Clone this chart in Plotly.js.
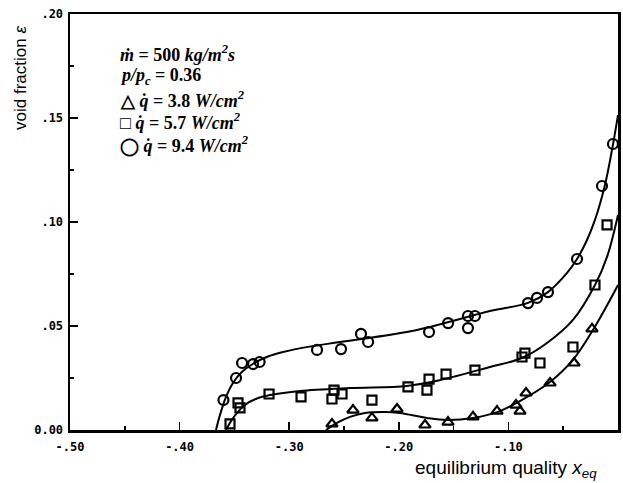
<!DOCTYPE html>
<html>
<head>
<meta charset="utf-8">
<script src="https://cdn.plot.ly/plotly-3.0.1.min.js"></script>
<style>html,body{margin:0;padding:0;background:#fff;}#chart{width:623px;height:483px;}</style>
</head>
<body>
<div id="chart"></div>
<script>
// Measured points: q = 9.4 W/cm2 (circles)
const circX = [-0.360,-0.3485,-0.343,-0.333,-0.327,-0.2746,-0.2527,-0.2345,-0.228,-0.1724,-0.155,-0.1369,-0.1305,-0.1369,-0.0821,-0.0739,-0.0639,-0.0374,-0.0146,-0.0046];
const circY = [0.0144,0.025,0.0322,0.0317,0.0327,0.0385,0.0389,0.0462,0.0423,0.0471,0.0514,0.0548,0.0548,0.049,0.061,0.0635,0.0663,0.0822,0.1173,0.1375];
// q = 5.7 W/cm2 (squares)
const sqX = [-0.354,-0.3467,-0.3449,-0.3184,-0.2892,-0.261,-0.2591,-0.2518,-0.2245,-0.1916,-0.1724,-0.1743,-0.1569,-0.1305,-0.0849,-0.0876,-0.0712,-0.0411,-0.021,-0.010];
const sqY = [0.0029,0.013,0.0106,0.0173,0.0159,0.0149,0.0192,0.0173,0.0144,0.0207,0.0245,0.0192,0.0269,0.0288,0.037,0.0351,0.0322,0.0399,0.0697,0.0986];
// q = 3.8 W/cm2 (triangles)
const triX = [-0.261,-0.2418,-0.2245,-0.2016,-0.1761,-0.1551,-0.1323,-0.1104,-0.0931,-0.0894,-0.0839,-0.062,-0.0401,-0.0237];
const triY = [0.0029,0.0096,0.0058,0.0101,0.0024,0.0038,0.0063,0.0091,0.012,0.0091,0.0178,0.0226,0.0322,0.0486];
// Fitted curves
const fitCircX = [-0.3668,-0.3630,-0.3580,-0.3513,-0.3430,-0.3340,-0.3200,-0.3057,-0.2800,-0.2536,-0.1834,-0.1168,-0.0821,-0.0639,-0.0465,-0.0374,-0.0290,-0.021,-0.0119,-0.0055,0];
const fitCircY = [0,0.0075,0.0155,0.0226,0.0280,0.0315,0.0352,0.0375,0.0402,0.0423,0.0481,0.0572,0.0611,0.0663,0.0755,0.0822,0.0905,0.101,0.1178,0.1346,0.1514];
const fitSqX = [-0.3577,-0.3522,-0.3460,-0.3400,-0.3300,-0.3175,-0.2901,-0.2445,-0.1925,-0.1624,-0.1168,-0.0876,-0.0648,-0.0411,-0.021,-0.010,0];
const fitSqY = [0,0.0050,0.0092,0.0122,0.0150,0.0168,0.0188,0.0202,0.0212,0.024,0.0303,0.0346,0.0418,0.0529,0.0697,0.0832,0.1034];
const fitTriX = [-0.2664,-0.2564,-0.2445,-0.2308,-0.2126,-0.1989,-0.1743,-0.156,-0.1323,-0.1077,-0.083,-0.062,-0.0411,-0.0228,-0.0073,0];
const fitTriY = [0,0.0034,0.0063,0.0082,0.0087,0.0082,0.0058,0.0048,0.0058,0.0091,0.0159,0.0231,0.0337,0.0481,0.0625,0.0697];
// Tick labels
const xTickVals = [-0.5,-0.4,-0.3,-0.2,-0.1,0];
const xTickText = ['-.50','-.40','-.30','-.20','-.10','0.00'];
const yTickVals = [0,0.05,0.1,0.15,0.2];
const yTickText = ['0.00','.05','.10','.15','.20'];
const legendLines = [
  '<i>ṁ</i> = 500 <i>kg/m<sup>2</sup>s</i>',
  '<i>p/p<sub>c</sub></i> = 0.36',
  '△ <i>q̇</i> = 3.8 <i>W/cm<sup>2</sup></i>',
  '□ <i>q̇</i> = 5.7 <i>W/cm<sup>2</sup></i>',
  '<span style="font-size:17px">◯</span> <i>q̇</i> = 9.4 <i>W/cm<sup>2</sup></i>'
];

const lineStyle = {color:'#000', width:2, shape:'spline', smoothing:1};
const mk = (sym,size)=>({symbol:sym, size:size, color:'#000', line:{color:'#000', width:2.2}});
const traces = [
  {x:fitCircX, y:fitCircY, mode:'lines', line:lineStyle, hoverinfo:'skip'},
  {x:fitSqX, y:fitSqY, mode:'lines', line:lineStyle, hoverinfo:'skip'},
  {x:fitTriX, y:fitTriY, mode:'lines', line:lineStyle, hoverinfo:'skip'},
  {x:circX, y:circY, mode:'markers', marker:mk('circle-open',10)},
  {x:sqX, y:sqY, mode:'markers', marker:mk('square-open',9)},
  {x:triX, y:triY, mode:'markers', marker:mk('triangle-up-open',10)}
];

const tickFont = {family:'DejaVu Sans Mono', size:12, color:'#000', weight:'bold'};
const annotations = legendLines.map((t,i)=>({
  text:t, xref:'paper', yref:'paper', x:(118-70)/548, y:(430-(53+i*23))/416,
  xanchor:'left', yanchor:'middle', showarrow:false,
  font:{family:'Liberation Serif', size:18, color:'#000', weight:'bold'}
}));
annotations.push({
  text:'void fraction <i>ε</i>', xref:'paper', yref:'paper', x:(20-70)/548, y:(430-78)/416,
  xanchor:'center', yanchor:'middle', textangle:-90, showarrow:false,
  font:{family:'Liberation Sans', size:17, color:'#000'}
});
annotations.push({
  text:'equilibrium quality <i>x<sub>eq</sub></i>', xref:'paper', yref:'paper', x:(506-70)/548, y:(430-469)/416,
  xanchor:'center', yanchor:'middle', showarrow:false,
  font:{family:'Liberation Sans', size:19, color:'#000'}
});

const layout = {
  width:623, height:483,
  margin:{l:70, r:5, t:14, b:53},
  paper_bgcolor:'#fff', plot_bgcolor:'#fff',
  showlegend:false,
  xaxis:{range:[-0.5,0], tickmode:'array', tickvals:xTickVals, ticktext:xTickText,
    ticks:'inside', ticklen:8, tickwidth:1.5, tickcolor:'#000', tickfont:tickFont,
    minor:{tickmode:'linear', tick0:-0.5, dtick:0.05, ticks:'inside', ticklen:4, tickwidth:1.5, tickcolor:'#000'},
    showgrid:false, zeroline:false, showline:true, linewidth:2.5, linecolor:'#000', mirror:true, ticklabelstandoff:4},
  yaxis:{range:[0,0.2], tickmode:'array', tickvals:yTickVals, ticktext:yTickText,
    ticks:'inside', ticklen:8, tickwidth:1.5, tickcolor:'#000', tickfont:tickFont,
    minor:{tickmode:'linear', tick0:0, dtick:0.025, ticks:'inside', ticklen:4, tickwidth:1.5, tickcolor:'#000'},
    showgrid:false, zeroline:false, showline:true, linewidth:2.5, linecolor:'#000', mirror:true, ticklabelstandoff:2},
  annotations:annotations
};
Plotly.newPlot('chart', traces, layout, {staticPlot:true, displayModeBar:false});
</script>
</body>
</html>
